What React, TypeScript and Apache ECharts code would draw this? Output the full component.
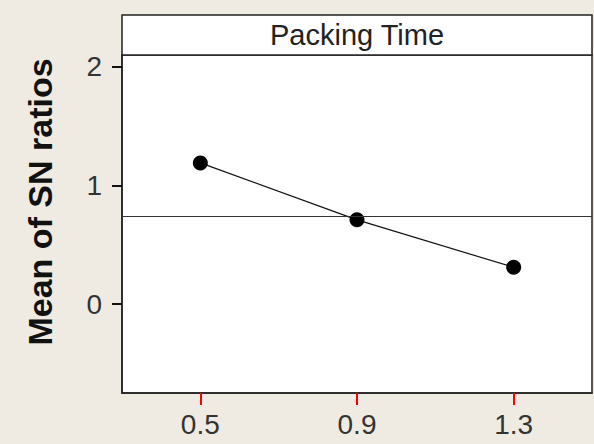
import React, { useEffect, useRef } from "react";
import * as echarts from "echarts";

const xLevels = [0.5, 0.9, 1.3];
const snMeans = [1.19, 0.71, 0.31];
const yTickValues = [0, 1, 2];
const panelTitle = "Packing Time";
const yAxisTitle = "Mean of SN ratios";
const xRange = [0.3, 1.5];
const yRange = [-0.75, 2.1];

export default function App() {
  const ref = useRef<HTMLDivElement>(null);
  useEffect(() => {
    if (!ref.current) return;
    const chart = echarts.init(ref.current, null, { renderer: "svg" });
    const overallMean = snMeans.reduce((a, b) => a + b, 0) / snMeans.length;
    const font = "'Liberation Sans', Arial, sans-serif";
    const axisLine = { show: true, onZero: false, lineStyle: { color: "#222", width: 1.5 } };
    chart.setOption({
      animation: false,
      backgroundColor: "#efebe2",
      grid: {
        left: 122,
        right: 2,
        top: 55,
        bottom: 51,
        show: true,
        backgroundColor: "#ffffff",
        borderColor: "#222222",
        borderWidth: 1.5,
      },
      xAxis: {
        type: "value",
        position: "bottom",
        min: xRange[0],
        max: xRange[1],
        splitLine: { show: false },
        axisLine,
        axisTick: {
          show: true,
          inside: false,
          length: 12,
          lineStyle: { color: "red", width: 2 },
          customValues: xLevels,
        },
        axisLabel: {
          customValues: xLevels,
          formatter: (v: number) => v.toFixed(1),
          fontFamily: font,
          fontSize: 28,
          color: "#333",
          margin: 17,
        },
      },
      yAxis: {
        type: "value",
        position: "left",
        min: yRange[0],
        max: yRange[1],
        splitLine: { show: false },
        axisLine,
        axisTick: {
          show: true,
          inside: false,
          length: 10,
          lineStyle: { color: "#111", width: 2 },
          customValues: yTickValues,
        },
        axisLabel: {
          customValues: yTickValues,
          fontFamily: font,
          fontSize: 28,
          color: "#333",
          margin: 20,
        },
      },
      graphic: [
        {
          type: "rect",
          shape: { x: 122, y: 15, width: 470, height: 40 },
          style: { fill: "#ffffff", stroke: "#222222", lineWidth: 1.5 },
        },
        {
          type: "text",
          x: 357,
          y: 35,
          style: {
            text: panelTitle,
            fontFamily: font,
            fontSize: 29,
            fill: "#222",
            align: "center",
            verticalAlign: "middle",
          },
        },
        {
          type: "text",
          x: 40,
          y: 202,
          rotation: Math.PI / 2,
          style: {
            text: yAxisTitle,
            fontFamily: font,
            fontSize: 34,
            fontWeight: "bold",
            fill: "#111",
            align: "center",
            verticalAlign: "middle",
          },
        },
      ],
      series: [
        {
          type: "line",
          data: xLevels.map((x, i) => [x, snMeans[i]]),
          symbol: "circle",
          symbolSize: 15,
          itemStyle: { color: "#000" },
          lineStyle: { color: "#111", width: 1.2 },
          markLine: {
            silent: true,
            symbol: "none",
            label: { show: false },
            lineStyle: { color: "#333", width: 1.2, type: "solid" },
            data: [{ yAxis: overallMean }],
          },
        },
      ],
    });
    return () => chart.dispose();
  }, []);
  return (
    <div
      ref={ref}
      style={{ position: "fixed", left: 0, top: 0, width: 594, height: 444 }}
    />
  );
}
